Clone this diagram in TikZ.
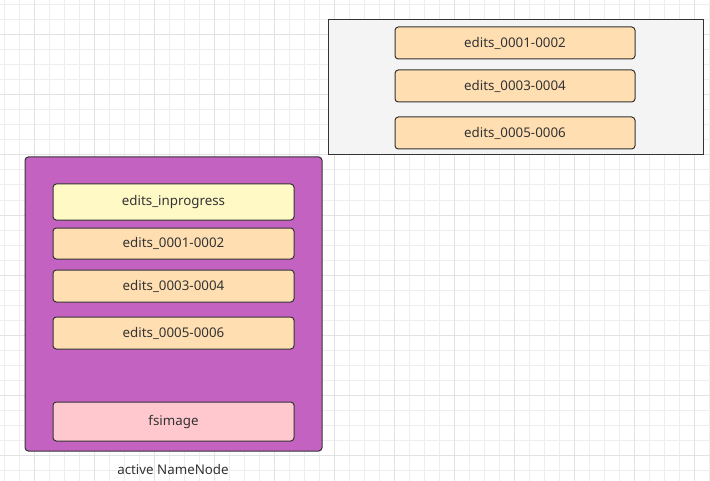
\documentclass[tikz,border=0pt]{standalone}
\usepackage{fontspec}
\setmainfont{Noto Sans}
\definecolor{gridminor}{HTML}{EEEEEE}
\definecolor{gridmajor}{HTML}{E2E2E2}
\definecolor{purplebg}{HTML}{C462C2}
\definecolor{yellowf}{HTML}{FFF9C6}
\definecolor{orangef}{HTML}{FFDFB2}
\definecolor{pinkf}{HTML}{FFC8CE}
\definecolor{grayf}{HTML}{F4F4F4}
\definecolor{edge}{HTML}{333333}
\definecolor{txt}{HTML}{333333}
\begin{document}
\begin{tikzpicture}[x=0.75pt,y=-0.75pt,
  lblfont/.style={font=\fontsize{10}{12}\selectfont},
  item/.style={draw=edge,line width=0.75pt,rounded corners=2.5pt,minimum height=#1,text=txt,lblfont,inner sep=0pt,minimum width=180pt},
  item/.default=24pt]
\useasboundingbox (0,0) rectangle (710,481);
\fill[white] (0,0) rectangle (710,481);
\foreach \i in {4,19,...,710} \draw[gridminor,line width=0.75pt] (\i,0) -- (\i,481);
\foreach \j in {5,20,...,481} \draw[gridminor,line width=0.75pt] (0,\j) -- (710,\j);
\foreach \i in {34,94,...,710} \draw[gridmajor,line width=0.75pt] (\i,0) -- (\i,481);
\foreach \j in {35,95,...,481} \draw[gridmajor,line width=0.75pt] (0,\j) -- (710,\j);
% standby container
\node[draw=edge,fill=grayf,line width=0.75pt,minimum width=281.25pt,minimum height=101.25pt,inner sep=0pt] (standby) at (515.5,87.5) {};
\node[item,fill=orangef] (s1) at (515,43) {edits\_0001-0002};
\node[item,fill=orangef] (s2) at (515,86) {edits\_0003-0004};
\node[item,fill=orangef] (s3) at (515,133) {edits\_0005-0006};
% active container
\node[draw=edge,fill=purplebg,line width=0.75pt,rounded corners=2.5pt,minimum width=222.75pt,minimum height=220.5pt,inner sep=0pt] (active) at (173.5,304) {};
\node[item=27pt,fill=yellowf,minimum width=180.75pt] (a0) at (173.5,202) {edits\_inprogress};
\node[item=23.25pt,fill=orangef,minimum width=180.75pt] (a1) at (173.5,243.5) {edits\_0001-0002};
\node[item,fill=orangef,minimum width=180.75pt] (a2) at (173.5,286) {edits\_0003-0004};
\node[item,fill=orangef,minimum width=180.75pt] (a3) at (173.5,333) {edits\_0005-0006};
\node[item=29.25pt,fill=pinkf,minimum width=180.75pt] (a4) at (173.5,421.5) {fsimage};
\node[text=txt,lblfont,inner sep=0pt] (lbl) at (173,469) {active NameNode};
\end{tikzpicture}
\end{document}
